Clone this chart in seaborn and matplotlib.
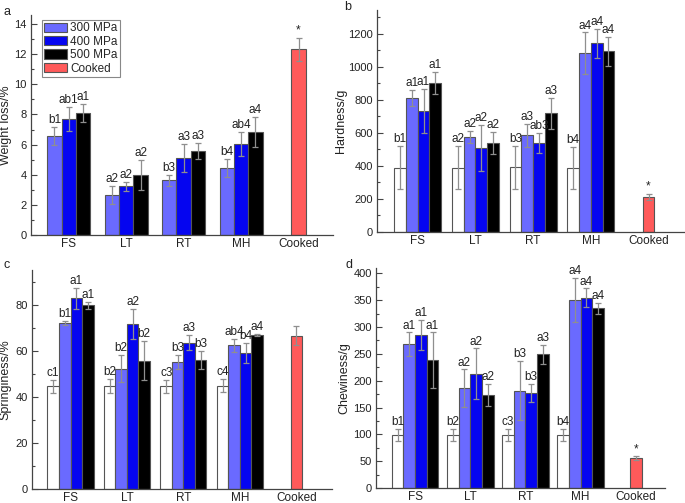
import numpy as np
import pandas as pd
import matplotlib
matplotlib.use("Agg")
import matplotlib.pyplot as plt
from matplotlib.patches import Patch
from matplotlib.ticker import MultipleLocator
import seaborn as sns

# ---------------- data ----------------
groups = ["FS", "LT", "RT", "MH"]
cats = groups + ["Cooked"]
levels_a = ["300 MPa", "400 MPa", "500 MPa"]
levels_bcd = ["Control", "300 MPa", "400 MPa", "500 MPa"]

# (a) weight loss /%
wl_300 = [6.57, 2.65, 3.62, 4.45]
wl_400 = [7.68, 3.25, 5.12, 6.04]
wl_500 = [8.07, 3.98, 5.57, 6.83]
wl_300_err = [0.60, 0.58, 0.35, 0.60]
wl_400_err = [0.80, 0.30, 0.95, 0.82]
wl_500_err = [0.60, 1.00, 0.55, 0.98]
wl_cooked, wl_cooked_err = 12.32, 0.77
wl_sig = [["b1", "ab1", "a1"], ["a2", "a2", "a2"], ["b3", "a3", "a3"], ["b4", "ab4", "a4"]]
wl_cooked_sig = "*"

# (b) hardness /g
hd_ctrl = [389, 390, 391, 388]
hd_300 = [811, 576, 585, 1082]
hd_400 = [734, 511, 539, 1143]
hd_500 = [902, 539, 719, 1095]
hd_ctrl_err = [130, 130, 130, 130]
hd_300_err = [50, 35, 70, 127]
hd_400_err = [133, 140, 60, 88]
hd_500_err = [68, 67, 92, 87]
hd_cooked, hd_cooked_err = 212, 20
hd_sig = [["b1", "a1", "a1", "a1"], ["a2", "a2", "a2", "a2"],
          ["b3", "a3", "ab3", "a3"], ["b4", "a4", "a4", "a4"]]
hd_cooked_sig = "*"

# (c) springiness /%
sp_ctrl = [44.6, 44.7, 44.5, 44.8]
sp_300 = [71.9, 52.2, 55.1, 62.3]
sp_400 = [82.8, 71.6, 63.5, 59.0]
sp_500 = [79.7, 55.7, 55.9, 66.8]
sp_ctrl_err = [2.9, 2.9, 2.9, 2.9]
sp_300_err = [0.9, 6.0, 3.2, 2.9]
sp_400_err = [4.6, 6.6, 3.2, 4.5]
sp_500_err = [1.5, 8.4, 4.0, 0.4]
sp_cooked, sp_cooked_err = 66.5, 4.2
sp_sig = [["c1", "b1", "a1", "a1"], ["b2", "b2", "a2", "b2"],
          ["c3", "b3", "a3", "b3"], ["c4", "ab4", "b4", "a4"]]
sp_cooked_sig = ""

# (d) chewiness /g
cw_ctrl = [99, 99.5, 98.5, 99.2]
cw_300 = [268, 186, 181, 350]
cw_400 = [286, 213, 177, 355]
cw_500 = [238, 173, 249, 335]
cw_ctrl_err = [11, 11, 11, 11]
cw_300_err = [22, 35, 55, 41]
cw_400_err = [28, 47, 17, 17]
cw_500_err = [52, 21, 18, 10]
cw_cooked, cw_cooked_err = 56, 3.5
cw_sig = [["b1", "a1", "a1", "a1"], ["b2", "a2", "a2", "a2"],
          ["c3", "b3", "b3", "a3"], ["b4", "a4", "a4", "a4"]]
cw_cooked_sig = "*"

# ---------------- style ----------------
sns.set_style("ticks")
plt.rcParams["font.family"] = ["Liberation Sans", "DejaVu Sans"]
plt.rcParams["axes.linewidth"] = 0.9

palette = {"Control": "#ffffff", "300 MPa": "#6a6aff", "400 MPa": "#0505f0",
           "500 MPa": "#000000"}
cooked_color = "#ff5a5a"
edge = "#555555"
err_color = "#8f8f8f"
txt_color = "#222222"

W, H = 685, 503
fig = plt.figure(figsize=(W / 100, H / 100), dpi=100)


def rect(l, r, t, b):
    return [l / W, 1 - b / H, (r - l) / W, (b - t) / H]


def make_df(levels, series, errs, sigs):
    rows = []
    for li, lev in enumerate(levels):
        for gi, g in enumerate(groups):
            rows.append(dict(group=g, level=lev, value=series[li][gi],
                             err=errs[li][gi], sig=sigs[gi][li]))
    return pd.DataFrame(rows)


def panel(ax, levels, series, errs, sigs, cooked, cooked_err, cooked_sig,
          width, cwidth, ylim, major, ylabel, xlim, ylabel_x):
    df = make_df(levels, series, errs, sigs)
    sns.barplot(data=df, x="group", y="value", hue="level", order=cats,
                hue_order=levels, palette=palette, width=width, gap=0,
                dodge=True, errorbar=None, edgecolor=edge, linewidth=0.8,
                saturation=1, legend=False, ax=ax)
    cdf = pd.DataFrame(dict(group=["Cooked"], value=[cooked]))
    sns.barplot(data=cdf, x="group", y="value", order=cats, color=cooked_color,
                width=cwidth, errorbar=None, edgecolor=edge, linewidth=0.8,
                saturation=1, ax=ax)
    span = ylim[1]
    for p in ax.patches:
        h = p.get_height()
        xc = p.get_x() + p.get_width() / 2
        gi = int(round(xc))
        if cats[gi] == "Cooked":
            e, s = cooked_err, cooked_sig
        else:
            sub = df[(df.group == cats[gi]) & np.isclose(df.value, h)]
            if sub.empty:
                continue
            e, s = sub.err.iloc[0], sub.sig.iloc[0]
        ax.errorbar(xc, h, yerr=e, fmt="none", ecolor=err_color, elinewidth=0.9,
                    capsize=2.2, capthick=0.9, zorder=5)
        if s:
            ax.text(xc, h + e + span * 0.004, s, ha="center", va="bottom",
                    fontsize=8.5, color=txt_color)
    ax.set_xlim(*xlim)
    ax.set_ylim(*ylim)
    ax.yaxis.set_major_locator(MultipleLocator(major))
    ax.yaxis.set_minor_locator(MultipleLocator(major / 2))
    ax.set_xlabel("")
    ax.set_ylabel(ylabel, fontsize=9, color=txt_color)
    ax.yaxis.set_label_coords(ylabel_x, 0.5)
    sns.despine(ax=ax)
    for sp in ("left", "bottom"):
        ax.spines[sp].set_color("#444444")
    ax.tick_params(axis="x", length=0, labelsize=8.5, labelcolor=txt_color, pad=2.5)
    ax.tick_params(axis="y", which="major", direction="in", length=4, width=0.8,
                   color="#444444", labelsize=8, labelcolor=txt_color, pad=3)
    ax.tick_params(axis="y", which="minor", direction="in", length=2.5, width=0.8,
                   color="#444444")


def lab_x(px, left, right):
    return (px - left) / (right - left)


ax_a = fig.add_axes(rect(31, 333, 15, 235))
panel(ax_a, levels_a, [wl_300, wl_400, wl_500],
      [wl_300_err, wl_400_err, wl_500_err], wl_sig,
      wl_cooked, wl_cooked_err, wl_cooked_sig, 0.75, 0.265,
      (0, 14.6), 2, "Weight loss/%", (-0.657, 4.6), lab_x(12, 31, 333))

ax_b = fig.add_axes(rect(377, 684, 10, 232))
panel(ax_b, levels_bcd, [hd_ctrl, hd_300, hd_400, hd_500],
      [hd_ctrl_err, hd_300_err, hd_400_err, hd_500_err], hd_sig,
      hd_cooked, hd_cooked_err, hd_cooked_sig, 0.815, 0.205,
      (0, 1345), 200, "Hardness/g", (-0.705, 4.615), lab_x(347, 377, 684))

ax_c = fig.add_axes(rect(31.7, 332, 270, 489))
panel(ax_c, levels_bcd, [sp_ctrl, sp_300, sp_400, sp_500],
      [sp_ctrl_err, sp_300_err, sp_400_err, sp_500_err], sp_sig,
      sp_cooked, sp_cooked_err, sp_cooked_sig, 0.815, 0.2,
      (0, 95), 20, "Springiness/%", (-0.687, 4.63), lab_x(11, 31.7, 332))

ax_d = fig.add_axes(rect(376, 665, 268, 488))
panel(ax_d, levels_bcd, [cw_ctrl, cw_300, cw_400, cw_500],
      [cw_ctrl_err, cw_300_err, cw_400_err, cw_500_err], cw_sig,
      cw_cooked, cw_cooked_err, cw_cooked_sig, 0.845, 0.21,
      (0, 410), 50, "Chewiness/g", (-0.707, 4.53), lab_x(350, 376, 665))

# legend in panel a
handles = [Patch(facecolor=palette[l], edgecolor=edge, linewidth=0.8) for l in levels_a]
handles.append(Patch(facecolor=cooked_color, edgecolor=edge, linewidth=0.8))
leg = ax_a.legend(handles, levels_a + ["Cooked"], loc="upper left",
                  bbox_to_anchor=((42 - 31) / (333 - 31), 1 - (20 - 15) / (235 - 15)),
                  fontsize=8.5, frameon=True, fancybox=False, framealpha=1,
                  edgecolor="#888888", borderpad=0.2, labelspacing=0.12,
                  handlelength=1.95, handleheight=0.85, handletextpad=0.25,
                  borderaxespad=0)
leg.get_frame().set_linewidth(0.8)

# panel letters
for letter, (x, y) in zip("abcd", [(3, 15), (344, 10), (3, 268), (346, 268)]):
    fig.text(x / W, 1 - y / H, letter, fontsize=9, color=txt_color, va="baseline")

fig.savefig("out.png", dpi=100)
